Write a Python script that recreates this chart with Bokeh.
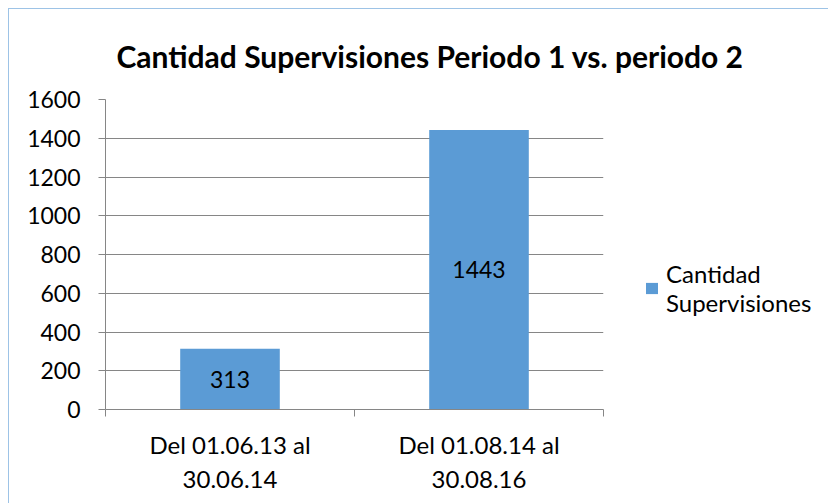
from bokeh.plotting import figure
from bokeh.models import (ColumnDataSource, FixedTicker, Legend, LegendItem,
                          LabelSet, Range1d)
from bokeh.core.properties import value
from bokeh.embed import file_html
from bokeh.resources import INLINE

# ---- data ----
categories = ["Del 01.06.13 al\n30.06.14", "Del 01.08.14 al\n30.08.16"]
counts = [313, 1443]
series_name = "Cantidad\nSupervisiones"
title_text = "Cantidad Supervisiones Periodo 1 vs. periodo 2"
y_ticks = [0, 200, 400, 600, 800, 1000, 1200, 1400, 1600]

FONT = "Lato"
BAR = "#5b9bd5"
GRID = "#868686"
FS = "23px"
FS2 = "24px"

xpos = [i + 0.5 for i in range(len(categories))]
src = ColumnDataSource(dict(x=xpos, top=counts, mid=[c / 2 for c in counts],
                            lab=[str(c) for c in counts]))

p = figure(frame_width=498, frame_height=310, output_backend="svg", toolbar_location=None,
           x_range=Range1d(0, len(categories)), y_range=Range1d(0, 1600),
           min_border_left=96, min_border_top=90, min_border_right=225,
           min_border_bottom=94)
p.outline_line_color = None
p.background_fill_color = "white"
p.border_fill_color = "white"

r = p.vbar(x="x", top="top", width=0.4, source=src, fill_color=BAR, line_color=None)

p.add_layout(LabelSet(x="x", y="mid", text="lab", source=src, text_align="center",
                      text_baseline="middle", text_font=value(FONT),
                      text_font_size=FS, text_color="black"))

# y axis
p.yaxis.ticker = FixedTicker(ticks=y_ticks)
p.yaxis.axis_line_color = GRID
p.yaxis.major_tick_line_color = GRID
p.yaxis.major_tick_out = 7
p.yaxis.major_tick_in = 0
p.yaxis.minor_tick_line_color = None
p.yaxis.major_label_text_font = FONT
p.yaxis.major_label_text_font_size = FS
p.yaxis.major_label_text_color = "black"
p.yaxis.major_label_standoff = 18

# x axis
p.xaxis.ticker = FixedTicker(ticks=xpos, minor_ticks=list(range(len(categories) + 1)))
p.xaxis.major_label_overrides = {x: c for x, c in zip(xpos, categories)}
p.xaxis.axis_line_color = GRID
p.xaxis.major_tick_line_color = None
p.xaxis.minor_tick_line_color = GRID
p.xaxis.minor_tick_out = 7
p.xaxis.minor_tick_in = 0
p.xaxis.major_label_text_font = FONT
p.xaxis.major_label_text_font_size = FS2
p.xaxis.major_label_text_color = "black"
p.xaxis.major_label_standoff = 13

p.xgrid.grid_line_color = None
p.ygrid.ticker = FixedTicker(ticks=y_ticks)
p.ygrid.grid_line_color = GRID

p.title.text = title_text
p.title.align = "left"
p.title.offset = 11
p.title.standoff = 51
p.title.text_font = FONT
p.title.text_font_style = "bold"
p.title.text_font_size = "30px"
p.title.text_color = "black"

legend = Legend(items=[LegendItem(label=series_name, renderers=[r])],
                location=(41, 92), border_line_color=None, background_fill_alpha=0,
                label_text_font=FONT, label_text_font_size=FS2, label_standoff=7,
                label_text_color="black",
                glyph_width=15, glyph_height=14, margin=0, padding=0)
p.add_layout(legend, "right")

p.styles = {"margin-left": "8px", "margin-top": "8px",
            "border-left": "1px solid #9dc3e6", "border-top": "1px solid #9dc3e6"}

open("out.html", "w").write(file_html(p, INLINE))
